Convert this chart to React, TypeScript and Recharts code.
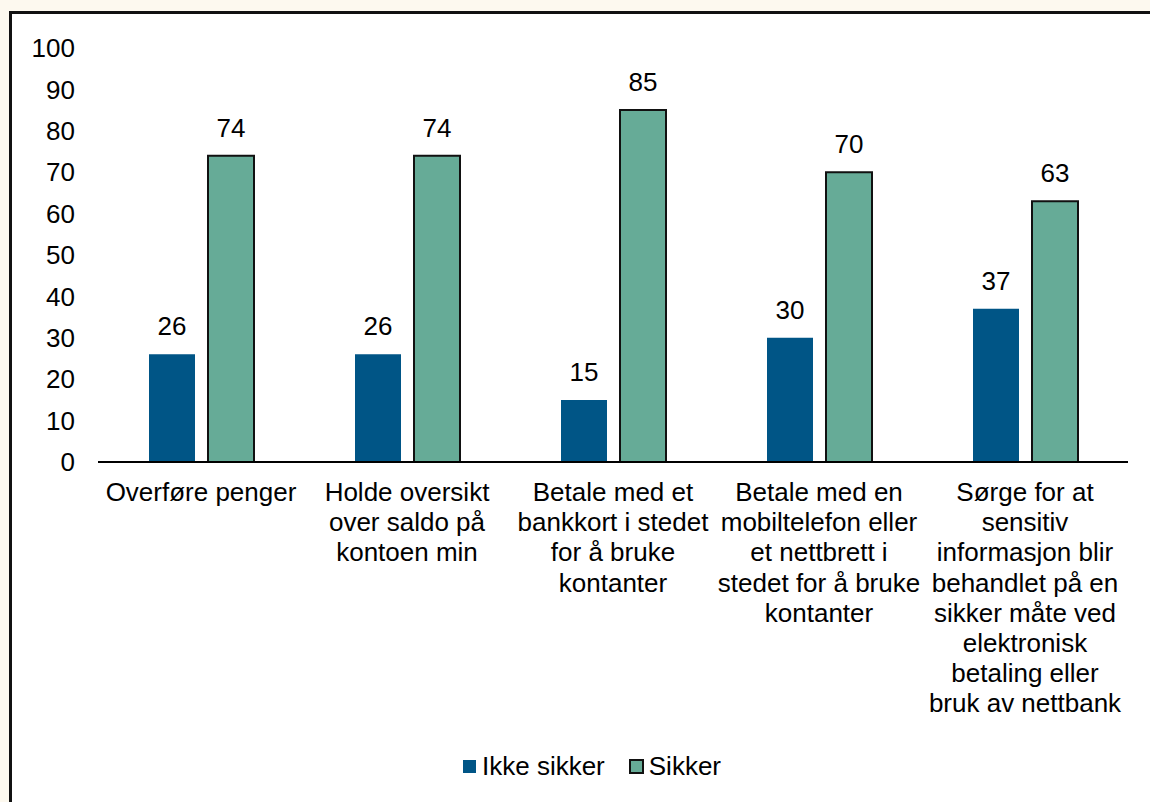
import { Bar, BarChart, LabelList, Legend, XAxis, YAxis } from 'recharts';

const categoryLines: string[][] = [
  ['Overføre penger'],
  ['Holde oversikt', 'over saldo på', 'kontoen min'],
  ['Betale med et', 'bankkort i stedet', 'for å bruke', 'kontanter'],
  ['Betale med en', 'mobiltelefon eller', 'et nettbrett i', 'stedet for å bruke', 'kontanter'],
  [
    'Sørge for at',
    'sensitiv',
    'informasjon blir',
    'behandlet på en',
    'sikker måte ved',
    'elektronisk',
    'betaling eller',
    'bruk av nettbank',
  ],
];

const ikkeSikker = [26, 26, 15, 30, 37];
const sikker = [74, 74, 85, 70, 63];

const yTicks = [0, 10, 20, 30, 40, 50, 60, 70, 80, 90, 100];

const SERIES = {
  ikke: { label: 'Ikke sikker', color: '#005586' },
  sikker: { label: 'Sikker', color: '#66ab97' },
} as const;

const FONT = '"Liberation Sans", Arial, sans-serif';
const FS = 26;

const chartData = categoryLines.map((lines, i) => ({
  name: lines.join(' '),
  ikke: ikkeSikker[i],
  sikker: sikker[i],
}));

const linesByName: Record<string, string[]> = Object.fromEntries(
  categoryLines.map((lines) => [lines.join(' '), lines]),
);

function CategoryTick({ x, y, payload }: any) {
  const lines = linesByName[payload.value] ?? [String(payload.value)];
  return (
    <text x={x} y={y} textAnchor="middle" fill="#000" fontSize={FS} fontFamily={FONT}>
      {lines.map((line, i) => (
        <tspan key={i} x={x} dy={i === 0 ? 33 : 30.2}>
          {line}
        </tspan>
      ))}
    </text>
  );
}

function LegendContent() {
  return (
    <div
      style={{
        display: 'flex',
        justifyContent: 'center',
        alignItems: 'center',
        height: 60,
        paddingBottom: 12,
        paddingLeft: 56,
        boxSizing: 'border-box',
        fontFamily: FONT,
        fontSize: FS,
        color: '#000',
      }}
    >
      <span style={{ width: 13, height: 13, background: SERIES.ikke.color, marginRight: 6 }} />
      <span style={{ marginRight: 24 }}>{SERIES.ikke.label}</span>
      <span
        style={{
          width: 15,
          height: 15,
          boxSizing: 'border-box',
          background: SERIES.sikker.color,
          border: '2px solid #111',
          marginRight: 5,
        }}
      />
      <span>{SERIES.sikker.label}</span>
    </div>
  );
}

export default function App() {
  return (
    <div style={{ position: 'fixed', left: 0, top: 0, width: 1150, height: 802, background: '#fdf9ef', overflow: 'hidden' }}>
      <div
        style={{
          position: 'absolute',
          left: 9,
          top: 11,
          width: 1200,
          height: 900,
          background: '#fff',
          border: '3px solid #111',
        }}
      />
      <div style={{ position: 'absolute', left: 0, top: 0 }}>
        <BarChart
          width={1150}
          height={802}
          data={chartData}
          margin={{ top: 48, right: 22, left: 0, bottom: 0 }}
          barSize={46}
          barGap={13}
        >
          <XAxis
            dataKey="name"
            interval={0}
            height={280}
            tick={<CategoryTick />}
            tickLine={false}
            tickMargin={0}
            axisLine={{ stroke: '#000', strokeWidth: 2 }}
          />
          <YAxis
            domain={[0, 100]}
            ticks={yTicks}
            width={98}
            axisLine={false}
            tickLine={false}
            tickMargin={17}
            tick={{ fontSize: FS, fill: '#000', fontFamily: FONT }}
          />
          <Legend verticalAlign="bottom" content={<LegendContent />} />
          <Bar dataKey="ikke" name={SERIES.ikke.label} fill={SERIES.ikke.color} isAnimationActive={false}>
            <LabelList dataKey="ikke" position="top" offset={19} fill="#000" fontSize={FS} fontFamily={FONT} />
          </Bar>
          <Bar
            dataKey="sikker"
            name={SERIES.sikker.label}
            fill={SERIES.sikker.color}
            stroke="#111"
            strokeWidth={2}
            isAnimationActive={false}
          >
            <LabelList dataKey="sikker" position="top" offset={19} fill="#000" fontSize={FS} fontFamily={FONT} />
          </Bar>
        </BarChart>
      </div>
    </div>
  );
}
